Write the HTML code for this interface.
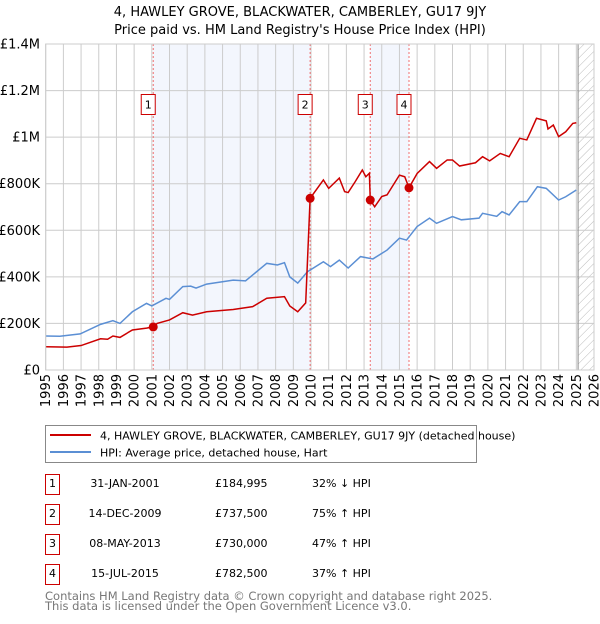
<!DOCTYPE html>
<html><head><meta charset="utf-8"><style>
body{margin:0;background:#fff;font-family:"DejaVu Sans","Liberation Sans",sans-serif;}
svg text{font-family:"DejaVu Sans","Liberation Sans",sans-serif;}
</style></head><body>
<svg id="c" width="600" height="620" xmlns="http://www.w3.org/2000/svg">
<defs><pattern id="hatch" width="6" height="6" patternUnits="userSpaceOnUse" patternTransform="rotate(45)"><line x1="0" y1="0" x2="0" y2="6" stroke="#bbb" stroke-width="1"/></pattern></defs>
<text x="300" y="16" text-anchor="middle" font-size="13">4, HAWLEY GROVE, BLACKWATER, CAMBERLEY, GU17 9JY</text>
<text x="300" y="34" text-anchor="middle" font-size="13">Price paid vs. HM Land Registry's House Price Index (HPI)</text>
<g id="plot"></g>
<g>
<rect x="45.5" y="425.5" width="431" height="37" fill="#fff" stroke="#888"/>
<line x1="50" y1="435" x2="91" y2="435" stroke="#cc0000" stroke-width="2"/>
<text x="100" y="439.5" font-size="11">4, HAWLEY GROVE, BLACKWATER, CAMBERLEY, GU17 9JY (detached house)</text>
<line x1="50" y1="452" x2="91" y2="452" stroke="#5b8fd4" stroke-width="2"/>
<text x="100" y="456.5" font-size="11">HPI: Average price, detached house, Hart</text>
</g>
<g id="tbl" font-size="11"></g>
<text x="45" y="600" font-size="11.5" fill="#777">Contains HM Land Registry data © Crown copyright and database right 2025.</text>
<text x="45" y="610" font-size="11.5" fill="#777">This data is licensed under the Open Government Licence v3.0.</text>
</svg>
<script>
const hpiYears=[1995,1995.8,1996.95,1998.1,1998.8,1999.2,1999.9,2000.7,2001,2001.8,2002,2002.75,2003.2,2003.5,2004.1,2005.6,2006.3,2007.5,2008.1,2008.5,2008.8,2009.25,2009.8,2010.7,2011.1,2011.6,2012.1,2012.8,2013.5,2014.3,2015.0,2015.4,2016,2016.7,2017.1,2018,2018.5,2019.5,2019.7,2020.5,2020.8,2021.2,2021.8,2022.2,2022.8,2023.3,2024.0,2024.4,2025.0];
const hpiValues=[146,145,155,196,212,200,250,286,275,308,303,358,360,352,369,386,383,458,451,461,400,373,422,465,444,472,438,487,477,515,566,558,616,652,630,659,645,652,673,660,680,666,723,723,787,780,730,744,773];
const priceYears=[1995,1996.2,1997,1998.1,1998.5,1998.8,1999.2,1999.9,2000.7,2001.08,2001.3,2002,2002.75,2003.3,2004.1,2005.6,2006.7,2007.5,2008.5,2008.8,2009.25,2009.7,2009.95,2010.7,2011.0,2011.6,2011.9,2012.1,2012.5,2012.9,2013.1,2013.3,2013.35,2013.6,2014.0,2014.3,2015.0,2015.3,2015.54,2016.0,2016.7,2017.1,2017.7,2018.0,2018.4,2019.3,2019.7,2020.1,2020.7,2021.2,2021.8,2022.2,2022.75,2023.3,2023.4,2023.7,2024.0,2024.4,2024.8,2025.0];
const priceValues=[100,98,105,134,132,146,140,172,180,185,200,215,246,236,250,260,272,308,315,275,250,288,737.5,816,780,824,766,762,809,859,830,845,730,701,745,752,837,830,782.5,844,895,866,902,902,876,890,916,898,930,916,995,988,1081,1070,1035,1052,1002,1023,1059,1062];
const saleYears=[2001.08,2009.95,2013.35,2015.54];
const saleValues=[184.995,737.5,730,782.5];
const saleLabels=["1","2","3","4"];
const saleDates=["31-JAN-2001","14-DEC-2009","08-MAY-2013","15-JUL-2015"];
const salePrices=["£184,995","£737,500","£730,000","£782,500"];
const saleHpi=["32% ↓ HPI","75% ↑ HPI","47% ↑ HPI","37% ↑ HPI"];
const yTicks=[0,200,400,600,800,1000,1200,1400];
const yTickLabels=["£0","£200K","£400K","£600K","£800K","£1M","£1.2M","£1.4M"];
const xTicks=[1995,1996,1997,1998,1999,2000,2001,2002,2003,2004,2005,2006,2007,2008,2009,2010,2011,2012,2013,2014,2015,2016,2017,2018,2019,2020,2021,2022,2023,2024,2025,2026];

const L=45.7,R=594,T=44,B=370;
const X=y=>L+(y-1995)*(R-L)/31;
const Y=v=>B-v*(B-T)/1400;
const NS="http://www.w3.org/2000/svg";
const g=document.getElementById('plot');
function mk(tag,attrs,parent){const e=document.createElementNS(NS,tag);for(const k in attrs)e.setAttribute(k,attrs[k]);(parent||g).appendChild(e);return e;}

for(const [a,b] of [[0,1],[2,3]]){
 const r=mk('rect',{x:X(saleYears[a]),y:T,width:X(saleYears[b])-X(saleYears[a]),height:B-T,fill:'#f3f6fd'});
 
 
}
const hx=X(2025.1);
const h=mk('rect',{x:hx,y:T,width:R-hx,height:B-T,fill:'url(#hatch)'});


xTicks.forEach(t=>{
 const l=mk('line',{x1:X(t),x2:X(t),y1:T,y2:B,stroke:'#ccc','stroke-width':1});
 
 
 const tx=mk('text',{x:0,y:0,'font-size':13,'text-anchor':'end',transform:`translate(${X(t)+4.5},${B+4}) rotate(-90)`});
 tx.textContent=t;
 
 
});
yTicks.forEach((t,i)=>{
 const l=mk('line',{x1:L,x2:R,y1:Y(t),y2:Y(t),stroke:'#ccc','stroke-width':1});
 
 
 const tx=mk('text',{x:40,y:Y(t)+4.5,'font-size':13,'text-anchor':'end'});
 tx.textContent=yTickLabels[i];
 
 
});
const vl=mk('line',{x1:hx,x2:hx,y1:T,y2:B,stroke:'#888','stroke-width':1});


saleYears.forEach(s=>{
 const l=mk('line',{x1:X(s),x2:X(s),y1:T,y2:B,stroke:'#f07070','stroke-width':1,'stroke-dasharray':'2,2'});
 
 
});
const hp=mk('polyline',{points:hpiYears.map((y,i)=>X(y)+','+Y(hpiValues[i])).join(' '),fill:'none',stroke:'#5b8fd4','stroke-width':1.5});


const pp=mk('polyline',{points:priceYears.map((y,i)=>X(y)+','+Y(priceValues[i])).join(' '),fill:'none',stroke:'#cc0000','stroke-width':1.5});


saleYears.forEach((s,i)=>{
 const c=mk('circle',{cx:X(s),cy:Y(saleValues[i]),r:4.5,fill:'#cc0000'});
 
 
 const bx=mk('rect',{x:X(s)-7-5,y:94.5,width:14,height:20,fill:'#fff',stroke:'#cc0000'});
 
 
 const t=mk('text',{x:X(s)-5,y:108.5,'font-size':11,'text-anchor':'middle'});
 t.textContent=saleLabels[i];
 
 
});
const ax=mk('rect',{x:L,y:T,width:R-L,height:B-T,fill:'none',stroke:'#ccc'});



const tb=document.getElementById('tbl');
saleLabels.forEach((lab,i)=>{
 const y0=475+i*30;
 const row=mk('g',{},tb);
 
 
 mk('rect',{x:45.5,y:y0-0.5,width:14,height:20,fill:'#fff',stroke:'#cc0000'},row);
 const a=mk('text',{x:52.5,y:y0+12},row);a.setAttribute('text-anchor','middle');a.textContent=lab;
 const d=mk('text',{x:125,y:y0+12,'text-anchor':'middle'},row);d.textContent=saleDates[i];
 const p=mk('text',{x:215,y:y0+12},row);p.textContent=salePrices[i];
 const q=mk('text',{x:312,y:y0+12},row);q.textContent=saleHpi[i];
});
</script>
</body></html>
